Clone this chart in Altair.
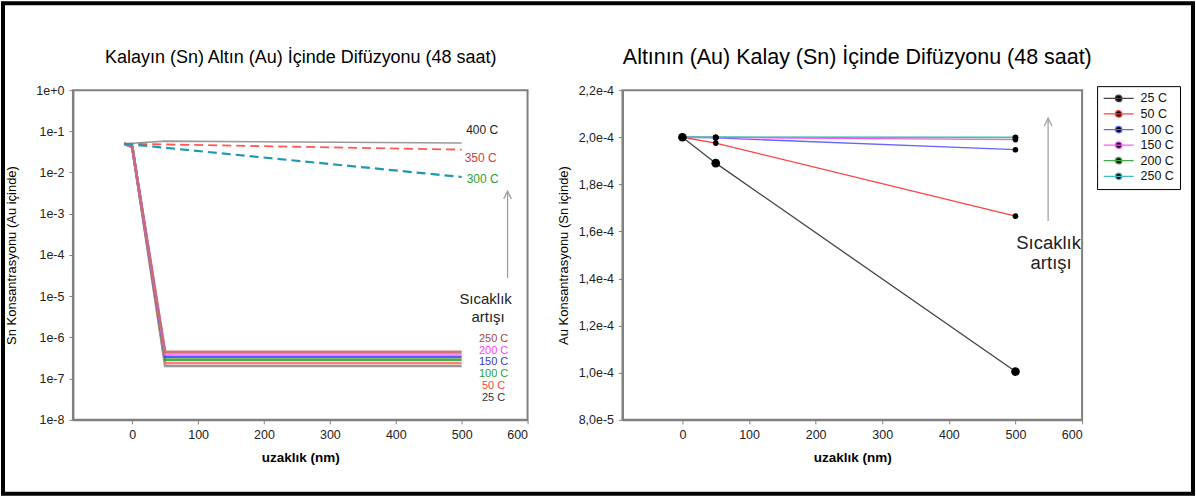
import altair as alt
import pandas as pd

FONT = "Liberation Sans"

# ---------------- data: left panel (Sn in Au, log scale) ----------------
left_low_temps = ["25 C", "50 C", "100 C", "150 C", "200 C", "250 C"]
left_low_x = [-12, 0, 50, 500]
left_low_values = {
    "25 C":  [0.05, 0.042, 2.03e-7, 2.03e-7],
    "50 C":  [0.05, 0.042, 2.4e-7, 2.4e-7],
    "100 C": [0.05, 0.042, 2.9e-7, 2.9e-7],
    "150 C": [0.05, 0.042, 3.4e-7, 3.4e-7],
    "200 C": [0.05, 0.042, 3.9e-7, 3.9e-7],
    "250 C": [0.05, 0.042, 4.45e-7, 4.45e-7],
}
left_high_x = {"400 C": [-12, 50, 500], "350 C": [-12, 500], "300 C": [-12, 500]}
left_high_values = {"400 C": [0.05, 0.058, 0.052], "350 C": [0.05, 0.036], "300 C": [0.05, 0.0078]}

left_series = left_low_temps + ["300 C", "350 C", "400 C"]
left_line_colors = ["#8c8c8c", "#ff6f6f", "#3aa03a", "#4848ff", "#ff74ff", "#c46a6a",
                    "#1f98b4", "#ff5555", "#9a9a9a"]

# ---------------- data: right panel (Au in Sn, linear) ----------------
right_temps = ["25 C", "50 C", "100 C", "150 C", "200 C", "250 C"]
right_x = [0, 50, 500]
right_values = {
    "25 C":  [2.0e-4, 1.89e-4, 1.005e-4],
    "50 C":  [2.0e-4, 1.975e-4, 1.665e-4],
    "100 C": [2.0e-4, 1.997e-4, 1.947e-4],
    "150 C": [2.0e-4, 1.999e-4, 1.99e-4],
    "200 C": [2.0e-4, 2.0e-4, 1.998e-4],
    "250 C": [2.0e-4, 2.0e-4, 2.0e-4],
}
right_colors = ["#444444", "#ff4040", "#6666ff", "#ff55ff", "#44aa44", "#44bbcc"]

x_ticks = [0, 100, 200, 300, 400, 500, 600]
left_y_ticks = [1e-8, 1e-7, 1e-6, 1e-5, 1e-4, 1e-3, 1e-2, 1e-1, 1.0]
right_y_ticks = [8e-5, 1.0e-4, 1.2e-4, 1.4e-4, 1.6e-4, 1.8e-4, 2.0e-4, 2.2e-4]

left_title = "Kalayın (Sn) Altın (Au) İçinde Difüzyonu (48 saat)"
right_title = "Altının (Au) Kalay (Sn) İçinde Difüzyonu (48 saat)"

# ---------------- tables ----------------
rows = []
for t in left_low_temps:
    for x, v in zip(left_low_x, left_low_values[t]):
        rows.append({"temp": t, "x": x, "v": v, "grp": "low"})
for t in ["300 C", "350 C", "400 C"]:
    for x, v in zip(left_high_x[t], left_high_values[t]):
        rows.append({"temp": t, "x": x, "v": v, "grp": t})
left_df = pd.DataFrame(rows)

rows = []
for t in right_temps:
    for x, v in zip(right_x, right_values[t]):
        rows.append({"sicaklik": t, "x": x, "v": v})
right_df = pd.DataFrame(rows)

W_L, W_R, H = 455, 460, 330
one = pd.DataFrame({"a": [0]})

axis_common = dict(domainColor="#808080", domainWidth=2, tickColor="#808080", tickWidth=1,
                   tickSize=4, labelFont=FONT, labelFontSize=12.5, labelColor="#222222",
                   titleFont=FONT, titleColor="black", grid=False)


def x_axis():
    return alt.Axis(values=x_ticks, title="uzaklık (nm)", labelPadding=5, titlePadding=9,
                    titleFontSize=13.5, titleFontWeight="bold", **axis_common)


xenc_l = alt.X("x:Q", scale=alt.Scale(domain=[-90, 600], nice=False, zero=False), axis=x_axis())
yenc_l = alt.Y("v:Q", scale=alt.Scale(type="log", domain=[1e-8, 1], nice=False),
               axis=alt.Axis(values=left_y_ticks, title="Sn Konsantrasyonu (Au içinde)",
                             labelExpr="datum.value >= 1 ? '1e+0' : '1e-' + round(-log(datum.value)/LN10)",
                             labelPadding=5, titlePadding=17, titleFontSize=13,
                             titleFontWeight="normal", **axis_common))
col_l = alt.Color("temp:N", scale=alt.Scale(domain=left_series, range=left_line_colors), legend=None)


def txt(s, x, y, color, size, weight="normal"):
    return alt.Chart(pd.DataFrame({"t": [s]})).mark_text(
        font=FONT, fontSize=size, color=color, align="center", baseline="middle",
        fontWeight=weight).encode(text="t:N", x=alt.value(x), y=alt.value(y))


def arrow(x, y_tip, y_bottom, color="#a0a0a0"):
    shaft = alt.Chart(one).mark_rule(color=color, strokeWidth=1.3).encode(
        x=alt.value(x), y=alt.value(y_tip), y2=alt.value(y_bottom))
    head = alt.Chart(one).mark_point(shape="M-1,1L0,-1L1,1", filled=False, color=color,
                                     strokeWidth=1.3, size=60, opacity=1).encode(
        x=alt.value(x), y=alt.value(y_tip + 4))
    return shaft + head


base_l = alt.Chart(left_df).encode(x=xenc_l, y=yenc_l, color=col_l, detail="temp:N")
low_lines = base_l.transform_filter(alt.datum.grp == "low").mark_line(strokeWidth=2.6, opacity=0.9)
l400 = base_l.transform_filter(alt.datum.grp == "400 C").mark_line(strokeWidth=1.6)
l350 = base_l.transform_filter(alt.datum.grp == "350 C").mark_line(strokeWidth=1.8, strokeDash=[9, 5])
l300 = base_l.transform_filter(alt.datum.grp == "300 C").mark_line(strokeWidth=2.2, strokeDash=[9, 5])

frame = alt.Chart(one).mark_rect(fill="white", fillOpacity=0, stroke="black", strokeWidth=4).encode(
    x=alt.value(-70), x2=alt.value(1121), y=alt.value(-87), y2=alt.value(404))

high_labels = [("400 C", 409.5, 40, "#222222"), ("350 C", 408, 68, "#d04040"),
               ("300 C", 410, 89, "#30a030")]
low_labels = [("250 C", 249, "#a44848"), ("200 C", 261, "#ff40ff"), ("150 C", 272, "#3838c0"),
              ("100 C", 284, "#30a030"), ("50 C", 296, "#ff4040"), ("25 C", 308, "#333333")]

left_layers = [frame, low_lines, l400, l350, l300]
for s, x, y, c in high_labels:
    left_layers.append(txt(s, x, y, c, 12))
for s, y, c in low_labels:
    left_layers.append(txt(s, 421, y, c, 11))
left_layers += [txt("Sıcaklık", 413, 209, "#222222", 15), txt("artışı", 415.5, 227, "#222222", 15),
                arrow(435, 101, 188), txt(left_title, 228, -32, "black", 18)]
left = alt.layer(*left_layers).properties(width=W_L, height=H)

# ---------------- right panel ----------------
xenc_r = alt.X("x:Q", scale=alt.Scale(domain=[-90, 600], nice=False, zero=False), axis=x_axis())
yenc_r = alt.Y("v:Q", scale=alt.Scale(domain=[8e-5, 2.2e-4], nice=False, zero=False),
               axis=alt.Axis(values=right_y_ticks, title="Au Konsantrasyonu (Sn içinde)",
                             labelExpr="datum.value < 0.0000999 ? replace(format(datum.value*100000, '.1f'), '.', ',') + 'e-5' : replace(format(datum.value*10000, '.1f'), '.', ',') + 'e-4'",
                             labelPadding=5, titlePadding=8, titleFontSize=13,
                             titleFontWeight="normal", **axis_common))

# legend glyph: short line with a dot in its middle
legend_path = "M-1.13,0L4.87,0M1.22,0A0.65,0.65,0,1,0,2.52,0A0.65,0.65,0,1,0,1.22,0Z"
col_r = alt.Color("sicaklik:N", scale=alt.Scale(domain=right_temps, range=right_colors),
                  legend=alt.Legend(title=None, orient="none", legendX=475, legendY=-4,
                                    strokeColor="black", fillColor="white", padding=6,
                                    symbolType=legend_path, symbolSize=100,
                                    symbolStrokeWidth=1.3, symbolFillColor="black",
                                    labelFont=FONT, labelFontSize=12.5, labelColor="#111111",
                                    labelExpr="datum.label + '       '",
                                    labelOffset=25, rowPadding=2.6))

base_r = alt.Chart(right_df).encode(x=xenc_r, y=yenc_r)
r_lines = base_r.mark_line(strokeWidth=1.3).encode(color=col_r, detail="sicaklik:N")
r_points = base_r.mark_point(filled=True, color="black", opacity=1).encode(
    size=alt.condition(alt.datum.sicaklik == "25 C", alt.value(75), alt.value(32)))

right_layers = [r_lines, r_points,
                txt("Sıcaklık", 426.5, 153, "#222222", 18.5), txt("artışı", 429, 173, "#222222", 18.5),
                arrow(426, 28, 131), txt(right_title, 235, -32, "black", 21.5)]
right = alt.layer(*right_layers).properties(width=W_R, height=H)

chart = alt.hconcat(left, right, spacing=95, bounds="flush").resolve_scale(
    color="independent"
).properties(
    padding={"left": 0, "top": 0, "right": 0, "bottom": 0}, background="white"
).configure_view(stroke="#808080", strokeWidth=2)

chart.save("out.html", embed_options={"renderer": "svg", "actions": False})
